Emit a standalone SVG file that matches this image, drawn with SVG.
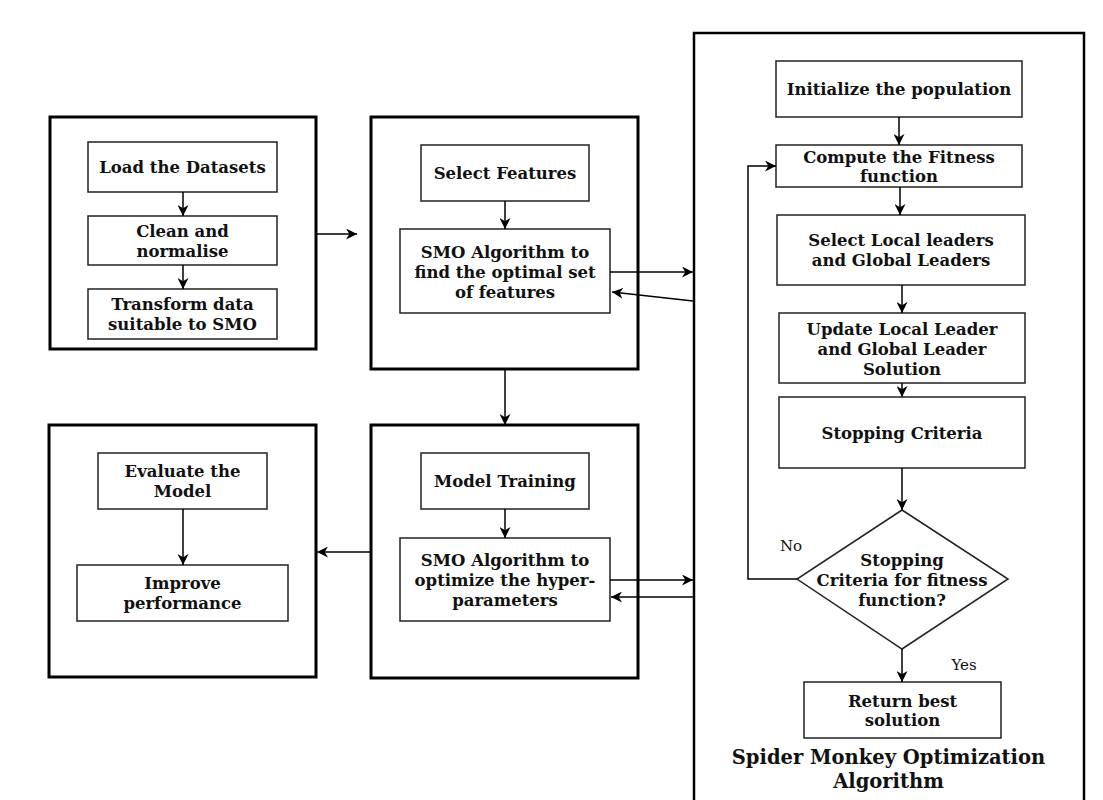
<svg xmlns="http://www.w3.org/2000/svg" width="1103" height="800" viewBox="0 0 1103 800">
  <defs>
    <marker id="arrow" viewBox="0 0 10 10" refX="10" refY="5" markerWidth="11" markerHeight="11" markerUnits="userSpaceOnUse" orient="auto">
      <path d="M0,0 L10,5 L0,10 L3,5 z" fill="#000"/>
    </marker>
    <style>
      .frame { fill: #fff; stroke: #000; stroke-width: 3; }
      .smo { fill: #fff; stroke: #000; stroke-width: 2.5; }
      .step { fill: #fff; stroke: #222; stroke-width: 1.5; }
      .lbl { font-family: "DejaVu Serif", "Liberation Serif", serif; font-size: 16.5px; font-weight: bold; fill: #111; text-anchor: middle; }
      .tag { font-family: "DejaVu Serif", "Liberation Serif", serif; font-size: 15px; fill: #111; text-anchor: middle; }
      .title { font-family: "DejaVu Serif", "Liberation Serif", serif; font-size: 19.5px; font-weight: bold; fill: #111; text-anchor: middle; }
      .link { fill: none; stroke: #000; stroke-width: 1.5; }
    </style>
  </defs>
  <rect width="1103" height="800" fill="#fff"/>

  <!-- data preparation -->
  <g id="prep">
    <rect class="frame" x="50" y="117" width="266" height="232"/>
    <rect class="step" x="88" y="142" width="189" height="50"/>
    <text class="lbl" x="182.5" y="173">Load the Datasets</text>
    <rect class="step" x="88" y="216" width="189" height="49"/>
    <text class="lbl" x="182.5" y="237">Clean and</text>
    <text class="lbl" x="182.5" y="257">normalise</text>
    <rect class="step" x="88" y="289" width="189" height="50"/>
    <text class="lbl" x="182.5" y="310">Transform data</text>
    <text class="lbl" x="182.5" y="330">suitable to SMO</text>
  </g>

  <!-- feature selection -->
  <g id="features">
    <rect class="frame" x="371" y="117" width="267" height="252"/>
    <rect class="step" x="421" y="145" width="168" height="56"/>
    <text class="lbl" x="505" y="179">Select Features</text>
    <rect class="step" x="400" y="229" width="210" height="84"/>
    <text class="lbl" x="505" y="258">SMO Algorithm to</text>
    <text class="lbl" x="505" y="278">find the optimal set</text>
    <text class="lbl" x="505" y="298">of features</text>
  </g>

  <!-- model training -->
  <g id="training">
    <rect class="frame" x="371" y="425" width="267" height="253"/>
    <rect class="step" x="421" y="453" width="168" height="56"/>
    <text class="lbl" x="505" y="487">Model Training</text>
    <rect class="step" x="400" y="538" width="210" height="83"/>
    <text class="lbl" x="505" y="566">SMO Algorithm to</text>
    <text class="lbl" x="505" y="586">optimize the hyper-</text>
    <text class="lbl" x="505" y="606">parameters</text>
  </g>

  <!-- evaluation -->
  <g id="evaluation">
    <rect class="frame" x="49" y="425" width="267" height="252"/>
    <rect class="step" x="98" y="453" width="169" height="56"/>
    <text class="lbl" x="182.5" y="477">Evaluate the</text>
    <text class="lbl" x="182.5" y="497">Model</text>
    <rect class="step" x="77" y="565" width="211" height="56"/>
    <text class="lbl" x="182.5" y="589">Improve</text>
    <text class="lbl" x="182.5" y="609">performance</text>
  </g>

  <!-- spider monkey optimization -->
  <g id="smo">
    <rect class="smo" x="694" y="33" width="390" height="790"/>
    <text class="title" x="888.5" y="764">Spider Monkey Optimization</text>
    <text class="title" x="888.5" y="788">Algorithm</text>
  </g>
  <g id="smo-init">
    <rect class="step" x="776" y="61" width="246" height="56"/>
    <text class="lbl" x="899" y="95">Initialize the population</text>
  </g>
  <g id="smo-fitness">
    <rect class="step" x="776" y="145" width="246" height="42"/>
    <text class="lbl" x="899" y="163">Compute the Fitness</text>
    <text class="lbl" x="899" y="182">function</text>
  </g>
  <g id="smo-select">
    <rect class="step" x="777" y="215" width="248" height="70"/>
    <text class="lbl" x="901" y="246">Select Local leaders</text>
    <text class="lbl" x="901" y="266">and Global Leaders</text>
  </g>
  <g id="smo-update">
    <rect class="step" x="779" y="313" width="246" height="70"/>
    <text class="lbl" x="902" y="335">Update Local Leader</text>
    <text class="lbl" x="902" y="355">and Global Leader</text>
    <text class="lbl" x="902" y="375">Solution</text>
  </g>
  <g id="smo-stop">
    <rect class="step" x="779" y="397" width="246" height="71"/>
    <text class="lbl" x="902" y="439">Stopping Criteria</text>
  </g>
  <g id="smo-check">
    <polygon class="step" points="902,510 1008,579 902,649 797,579"/>
    <text class="lbl" x="902" y="566">Stopping</text>
    <text class="lbl" x="902" y="586">Criteria for fitness</text>
    <text class="lbl" x="902" y="606">function?</text>
  </g>
  <g id="smo-return">
    <rect class="step" x="804" y="682" width="197" height="56"/>
    <text class="lbl" x="902.5" y="707">Return best</text>
    <text class="lbl" x="902.5" y="726">solution</text>
  </g>

  <!-- connectors -->
  <g id="connectors">
    <line class="link" x1="183" y1="192" x2="183" y2="216" marker-end="url(#arrow)"/>
    <line class="link" x1="183" y1="265" x2="183" y2="289" marker-end="url(#arrow)"/>
    <line class="link" x1="316" y1="234" x2="357" y2="234" marker-end="url(#arrow)"/>
    <line class="link" x1="505" y1="201" x2="505" y2="229" marker-end="url(#arrow)"/>
    <line class="link" x1="610" y1="272" x2="693" y2="272" marker-end="url(#arrow)"/>
    <line class="link" x1="693" y1="301" x2="612" y2="292" marker-end="url(#arrow)"/>
    <line class="link" x1="505" y1="369" x2="505" y2="425" marker-end="url(#arrow)"/>
    <line class="link" x1="505" y1="509" x2="505" y2="538" marker-end="url(#arrow)"/>
    <line class="link" x1="610" y1="580" x2="693" y2="580" marker-end="url(#arrow)"/>
    <line class="link" x1="693" y1="597" x2="611" y2="597" marker-end="url(#arrow)"/>
    <line class="link" x1="371" y1="552" x2="317" y2="552" marker-end="url(#arrow)"/>
    <line class="link" x1="183" y1="509" x2="183" y2="565" marker-end="url(#arrow)"/>
    <line class="link" x1="899" y1="117" x2="899" y2="145" marker-end="url(#arrow)"/>
    <line class="link" x1="900" y1="187" x2="900" y2="215" marker-end="url(#arrow)"/>
    <line class="link" x1="902" y1="285" x2="902" y2="313" marker-end="url(#arrow)"/>
    <line class="link" x1="902" y1="383" x2="902" y2="397" marker-end="url(#arrow)"/>
    <line class="link" x1="902" y1="468" x2="902" y2="510" marker-end="url(#arrow)"/>
    <line class="link" x1="902" y1="649" x2="902" y2="682" marker-end="url(#arrow)"/>
    <polyline class="link" points="797,579 748,579 748,166 776,166" marker-end="url(#arrow)"/>
    <text class="tag" x="791" y="551">No</text>
    <text class="tag" x="964" y="670">Yes</text>
  </g>
</svg>
